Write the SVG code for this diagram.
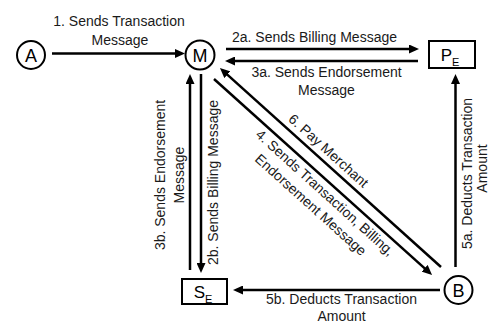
<svg xmlns="http://www.w3.org/2000/svg" width="491" height="324" viewBox="0 0 491 324">
  <style>
    .node { fill: #ffffff; stroke: #000000; stroke-width: 2; }
    .label { font-family: "Liberation Sans", Arial, sans-serif; font-size: 14px; fill: #1a1a1a; text-anchor: middle; }
    .name { font-family: "Liberation Sans", Arial, sans-serif; font-size: 18px; fill: #000000; text-anchor: middle; }
    .sub { font-size: 11px; }
    .edge { stroke: #000000; stroke-width: 2.5; fill: none; }
    .arrow { marker-end: url(#head); }
  </style>
  <defs>
    <marker id="head" markerUnits="userSpaceOnUse" markerWidth="10" markerHeight="9" refX="2" refY="4.5" orient="auto">
      <path d="M0,0 L10,4.5 L0,9 z" fill="#000000"/>
    </marker>
  </defs>
  <rect width="491" height="324" fill="#ffffff"/>

  <!-- connectors -->
  <g id="connectors">
    <line class="edge arrow" x1="52" y1="53.5" x2="177" y2="53.5"/>
    <line class="edge arrow" x1="226" y1="49" x2="411" y2="49"/>
    <line class="edge arrow" x1="418" y1="61" x2="233" y2="61"/>
    <line class="edge arrow" x1="190" y1="270" x2="190" y2="82"/>
    <line class="edge arrow" x1="201" y1="74" x2="201" y2="265"/>
    <line class="edge arrow" x1="455.5" y1="267" x2="455.5" y2="82"/>
    <line class="edge arrow" x1="440" y1="290" x2="241" y2="290"/>
    <line class="edge arrow" x1="441" y1="267" x2="225.9" y2="73.4"/>
    <line class="edge arrow" x1="214" y1="79" x2="426.1" y2="269.6"/>
  </g>

  <!-- connector labels -->
  <g id="edge-labels">
    <text class="label" x="119" y="26">1. Sends Transaction</text>
    <text class="label" x="120" y="44.5">Message</text>
    <text class="label" x="314.5" y="42">2a. Sends Billing Message</text>
    <text class="label" x="326.5" y="77">3a. Sends Endorsement</text>
    <text class="label" x="326.5" y="95">Message</text>
    <text class="label" x="341.5" y="303.5">5b. Deducts Transaction</text>
    <text class="label" x="341.5" y="320.5">Amount</text>
    <g transform="rotate(-90)">
      <text class="label" x="-175" y="164.5">3b. Sends Endorsement</text>
      <text class="label" x="-175" y="183.5">Message</text>
      <text class="label" x="-182.5" y="218">2b. Sends Billing Message</text>
      <text class="label" x="-173.5" y="471.5">5a. Deducts Transaction</text>
      <text class="label" x="-168.5" y="487">Amount</text>
    </g>
    <g transform="rotate(42)">
      <text class="label" x="345" y="-103">6. Pay Merchant</text>
      <text class="label" x="370.5" y="-69.5">4. Sends Transaction, Billing,</text>
      <text class="label" x="368" y="-51">Endorsement Message</text>
    </g>
  </g>

  <!-- nodes -->
  <g id="A">
    <circle class="node" cx="31" cy="55" r="14"/>
    <text class="name" x="31" y="61.5">A</text>
  </g>
  <g id="M">
    <circle class="node" cx="200" cy="55" r="14.5"/>
    <text class="name" x="200" y="61.5">M</text>
  </g>
  <g id="PE">
    <rect class="node" x="429" y="41" width="46" height="27"/>
    <text class="name" x="450" y="61" style="font-size:17px">P<tspan class="sub" dy="5">E</tspan></text>
  </g>
  <g id="SE">
    <rect class="node" x="182" y="279" width="45" height="25"/>
    <text class="name" x="203" y="298" style="font-size:17px">S<tspan class="sub" dy="5">E</tspan></text>
  </g>
  <g id="B">
    <circle class="node" cx="458.5" cy="290" r="14"/>
    <text class="name" x="458.5" y="296.5">B</text>
  </g>
</svg>
